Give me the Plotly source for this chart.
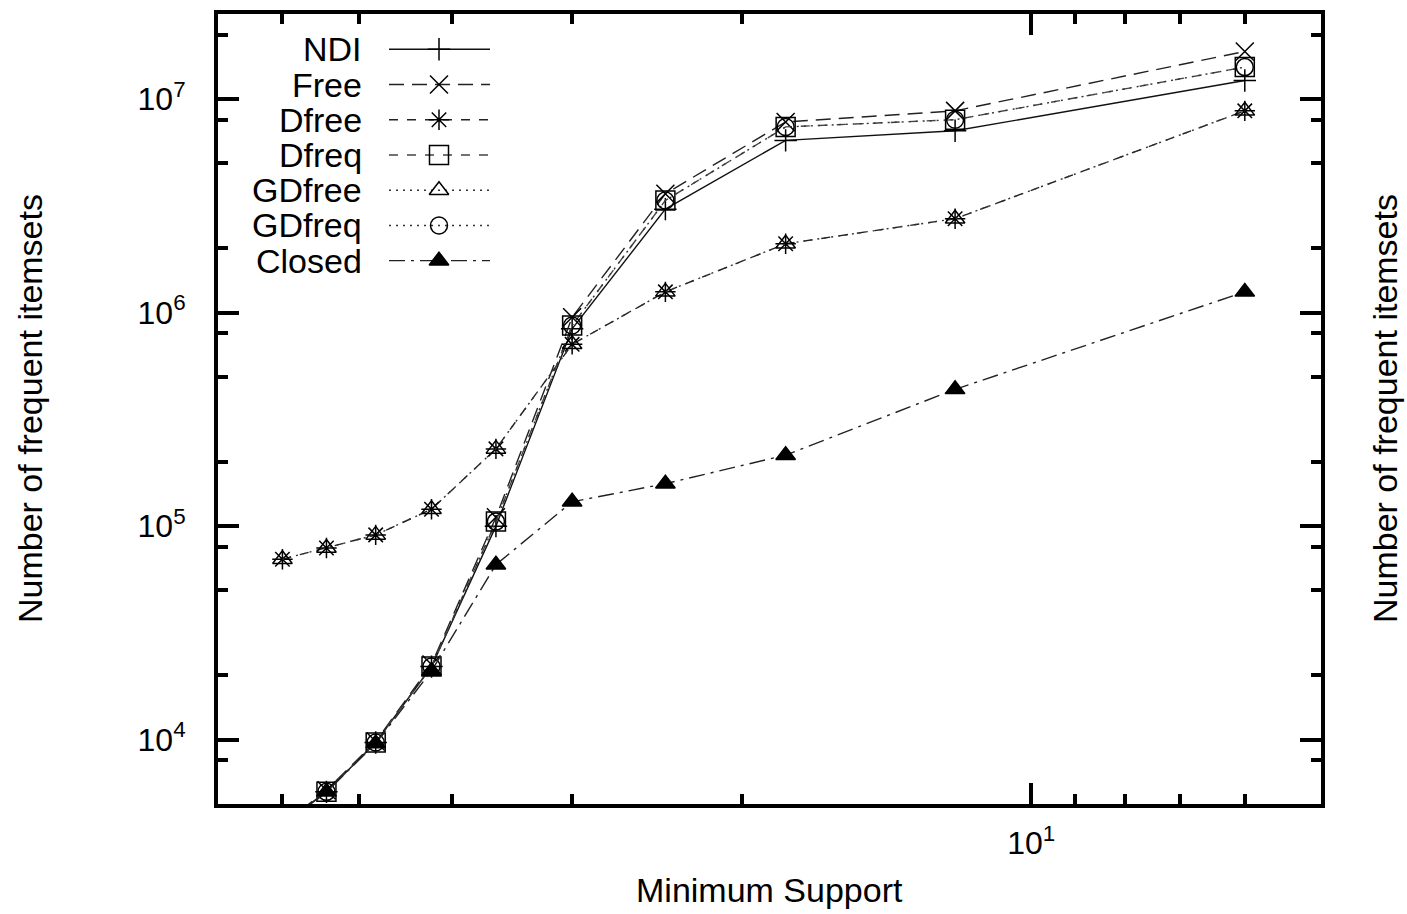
import math
import plotly.graph_objects as go

# ---- data -------------------------------------------------------------
support = [60, 54, 48, 42, 36, 30, 24, 18, 12, 6]

ndi    = [4.0e3, 5.7e3, 9.7e3, 2.2e4, 1.00e5, 8.4e5, 3.05e6, 6.4e6, 7.1e6, 1.22e7]
free   = [4.0e3, 5.8e3, 9.8e3, 2.25e4, 1.10e5, 9.5e5, 3.6e6, 7.8e6, 8.8e6, 1.67e7]
dfree  = [7.0e4, 7.9e4, 9.1e4, 1.2e5, 2.3e5, 7.1e5, 1.25e6, 2.1e6, 2.75e6, 8.8e6]
dfreq  = [4.0e3, 5.7e3, 9.7e3, 2.2e4, 1.05e5, 8.7e5, 3.35e6, 7.4e6, 8.0e6, 1.41e7]
gdfree = [7.0e4, 7.9e4, 9.1e4, 1.2e5, 2.3e5, 7.1e5, 1.25e6, 2.1e6, 2.75e6, 8.8e6]
gdfreq = [4.0e3, 5.7e3, 9.7e3, 2.2e4, 1.05e5, 8.7e5, 3.35e6, 7.4e6, 8.0e6, 1.41e7]
closed = [4.0e3, 5.7e3, 9.6e3, 2.1e4, 6.6e4, 1.3e5, 1.58e5, 2.15e5, 4.37e5, 1.25e6]

names = ["NDI", "Free", "Dfree", "Dfreq", "GDfree", "GDfreq", "Closed"]
values = [ndi, free, dfree, dfreq, gdfree, gdfreq, closed]

x_major = [10]
x_major_text = ["10<sup>1</sup>"]
x_minor = [6, 7, 8, 9, 20, 30, 40, 50, 60]
y_major = [1e4, 1e5, 1e6, 1e7]
y_major_text = ["10<sup>4</sup>", "10<sup>5</sup>", "10<sup>6</sup>", "10<sup>7</sup>"]
y_minor = [8e3, 2e4, 5e4, 8e4, 2e5, 5e5, 8e5, 2e6, 5e6, 8e6, 2e7]

# ---- styles (gnuplot-like point types / dash types) -------------------
styles = {
    "NDI":    dict(dash="solid",              symbol="cross-thin-open",   size=16, color="#111"),
    "Free":   dict(dash="15px,8px",           symbol="x-thin-open",       size=18, color="#222"),
    "Dfree":  dict(dash="9px,9px",            symbol="asterisk-open",     size=17, color="#222"),
    "Dfreq":  dict(dash="9px,9px",            symbol="square-open",       size=19, color="#444"),
    "GDfree": dict(dash="2px,5px",            symbol="triangle-up-open",  size=17, color="#333"),
    "GDfreq": dict(dash="2px,5px",            symbol="circle-open",       size=17, color="#333"),
    "Closed": dict(dash="16px,6px,3px,6px",   symbol="triangle-up",       size=17, color="#222"),
}

FONT = "Liberation Sans, Arial, Helvetica, sans-serif"
W, H = 1407, 914
L, R, T, B = 218, 86, 10, 110
PW, PH = W - L - R, H - T - B

fig = go.Figure()

for name, ys in zip(names, values):
    s = styles[name]
    fig.add_trace(go.Scatter(
        x=support, y=ys, mode="lines+markers", name=name,
        line=dict(color=s["color"], width=1.4, dash=s["dash"]),
        marker=dict(symbol=s["symbol"], size=s["size"], color="black",
                    line=dict(color="black", width=1.5)),
        showlegend=False,
    ))

# ---- key: text right-aligned, sample line + point to its right ---------
key_text_right = 146
key_x0, key_xm, key_x1 = 171, 221, 272
key_row0, key_step = 35.5, 35.4
for i, name in enumerate(names):
    s = styles[name]
    yy = key_row0 + key_step * i
    fig.add_trace(go.Scatter(
        x=[key_x0, key_x1], y=[yy, yy], mode="lines",
        line=dict(color=s["color"], width=1.4, dash=s["dash"]),
        xaxis="x2", yaxis="y2", showlegend=False, hoverinfo="skip",
    ))
    fig.add_trace(go.Scatter(
        x=[key_xm], y=[yy], mode="markers",
        marker=dict(symbol=s["symbol"], size=s["size"], color="black",
                    line=dict(color="black", width=1.5)),
        xaxis="x2", yaxis="y2", showlegend=False, hoverinfo="skip",
    ))
    fig.add_annotation(x=key_text_right, y=yy, xref="x2", yref="y2",
                       text=name, showarrow=False, xanchor="right",
                       yanchor="middle", font=dict(family=FONT, size=34, color="black"))

axis_common = dict(
    type="log", showline=True, linecolor="black", linewidth=4, mirror="ticks",
    ticks="inside", ticklen=21, tickwidth=3.5, tickcolor="black",
    showgrid=False, zeroline=False, tickmode="array",
    tickfont=dict(family=FONT, size=32, color="black"),
)

fig.update_layout(
    width=W, height=H,
    margin=dict(l=L, r=R, t=T, b=B),
    paper_bgcolor="white", plot_bgcolor="white",
    showlegend=False,
    xaxis=dict(**axis_common,
               range=[math.log10(70), math.log10(5)],
               tickvals=x_major, ticktext=x_major_text,
               ticklabelstandoff=8,
               minor=dict(tickmode="array", tickvals=x_minor, ticks="inside",
                          ticklen=10, tickwidth=3.5, tickcolor="black")),
    yaxis=dict(**axis_common,
               range=[math.log10(5e3), math.log10(2.5e7)],
               tickvals=y_major, ticktext=y_major_text,
               ticklabelstandoff=22,
               minor=dict(tickmode="array", tickvals=y_minor, ticks="inside",
                          ticklen=10, tickwidth=3.5, tickcolor="black")),
    xaxis2=dict(overlaying="x", range=[0, PW], visible=False, fixedrange=True),
    yaxis2=dict(overlaying="y", range=[PH, 0], visible=False, fixedrange=True),
)

title_font = dict(family=FONT, size=34, color="black")
fig.add_annotation(text="Minimum Support", xref="paper", yref="paper",
                   x=0.5, y=0, yshift=-86, showarrow=False,
                   xanchor="center", yanchor="middle", font=title_font)
fig.add_annotation(text="Number of frequent itemsets", xref="paper", yref="paper",
                   x=0, y=0.5, xshift=-(L - 30), showarrow=False, textangle=-90,
                   xanchor="center", yanchor="middle", font=title_font)
fig.add_annotation(text="Number of frequent itemsets", xref="paper", yref="paper",
                   x=1, y=0.5, xshift=(1385 - (W - R)), showarrow=False, textangle=-90,
                   xanchor="center", yanchor="middle", font=title_font)

fig.write_html("out.html")
